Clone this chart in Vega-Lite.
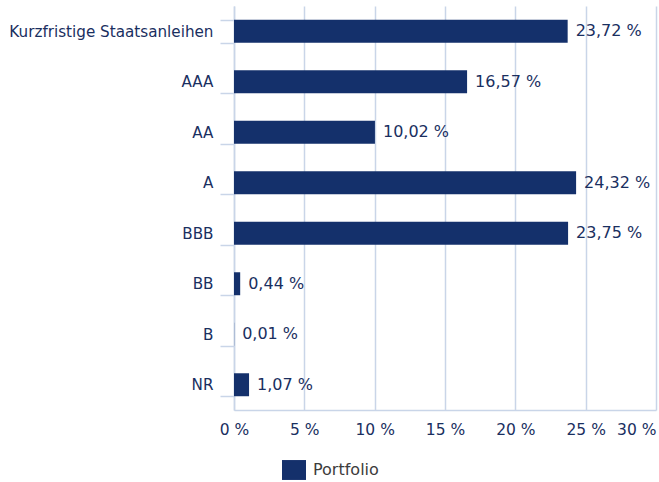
{
  "$schema": "https://vega.github.io/schema/vega-lite/v6.json",
  "autosize": "none",
  "width": 422,
  "height": 404,
  "padding": {"left": 234, "top": 6, "right": 3, "bottom": 72},
  "background": "white",
  "config": {
    "view": {"stroke": null},
    "font": "DejaVu Sans"
  },
  "data": {
    "values": [
      {"kategorie": "Kurzfristige Staatsanleihen", "wert": 23.72, "serie": "Portfolio"},
      {"kategorie": "AAA", "wert": 16.57, "serie": "Portfolio"},
      {"kategorie": "AA", "wert": 10.02, "serie": "Portfolio"},
      {"kategorie": "A", "wert": 24.32, "serie": "Portfolio"},
      {"kategorie": "BBB", "wert": 23.75, "serie": "Portfolio"},
      {"kategorie": "BB", "wert": 0.44, "serie": "Portfolio"},
      {"kategorie": "B", "wert": 0.01, "serie": "Portfolio"},
      {"kategorie": "NR", "wert": 1.07, "serie": "Portfolio"}
    ]
  },
  "encoding": {
    "y": {
      "field": "kategorie",
      "type": "nominal",
      "sort": null,
      "title": null,
      "scale": {"paddingInner": 0.545, "paddingOuter": 0.2725},
      "axis": {
        "tickBand": "extent",
        "tickSize": 14,
        "tickColor": "#c9d5e8",
        "tickWidth": 1.5,
        "domainColor": "#c9d5e8",
        "domainWidth": 1.5,
        "labelPadding": 7,
        "labelFontSize": 15.2,
        "labelLimit": 0,
        "labelColor": "#1a2f5f",
        "labelFont": "DejaVu Sans",
        "grid": false
      }
    },
    "x": {
      "field": "wert",
      "type": "quantitative",
      "title": null,
      "scale": {"domain": [0, 30], "nice": false},
      "axis": {
        "values": [0, 5, 10, 15, 20, 25, 30],
        "labelExpr": "datum.value + ' %'",
        "ticks": false,
        "labelPadding": 12,
        "labelFontSize": 15.5,
        "labelColor": "#1a2f5f",
        "labelFont": "DejaVu Sans",
        "labelAlign": {"condition": {"test": "datum.value >= 30", "value": "right"}, "value": "center"},
        "labelDx": {"condition": {"test": "datum.value >= 30", "value": 3}, "value": 0},
        "domainColor": "#c9d5e8",
        "domainWidth": 1.5,
        "grid": true,
        "gridColor": "#c9d5e8",
        "gridWidth": 1.5
      }
    }
  },
  "layer": [
    {
      "mark": {"type": "bar", "strokeWidth": 0},
      "encoding": {
        "color": {
          "field": "serie",
          "type": "nominal",
          "scale": {"range": ["#14306b"]},
          "legend": {
            "title": null,
            "orient": "none",
            "legendX": 48,
            "legendY": 452,
            "symbolType": "M-1,-0.83H1V0.83H-1Z",
            "symbolSize": 576,
            "symbolStrokeWidth": 0,
            "labelFontSize": 16,
            "labelColor": "#3c3c3c",
            "labelFont": "DejaVu Sans",
            "labelOffset": 7
          }
        }
      }
    },
    {
      "mark": {
        "type": "text",
        "align": "left",
        "baseline": "middle",
        "dx": 8,
        "fontSize": 16,
        "color": "#1a2f5f",
        "font": "DejaVu Sans",
        "text": {"expr": "replace(format(datum.wert, '.2f'), '.', ',') + ' %'"}
      }
    }
  ]
}
